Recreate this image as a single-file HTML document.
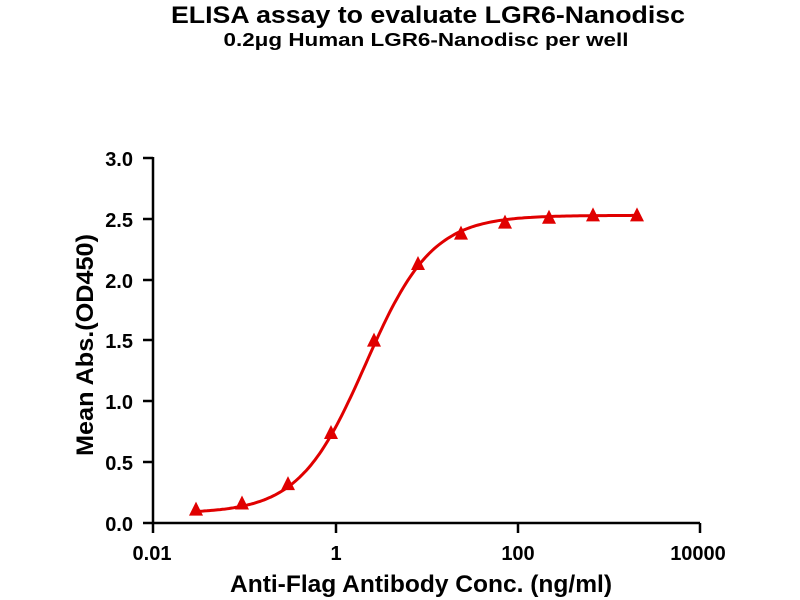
<!DOCTYPE html>
<html><head><meta charset="utf-8"><style>body{margin:0;background:#fff}svg{display:block}text{font-family:"Liberation Sans",Arial,sans-serif;font-weight:bold;fill:#000}</style></head><body>
<svg id="s" width="800" height="600" xmlns="http://www.w3.org/2000/svg">
<text x="428" y="23" text-anchor="middle" font-size="24" textLength="514" lengthAdjust="spacingAndGlyphs">ELISA assay to evaluate LGR6-Nanodisc</text>
<text x="426" y="46" text-anchor="middle" font-size="18" textLength="405" lengthAdjust="spacingAndGlyphs">0.2μg Human LGR6-Nanodisc per well</text>
<g stroke="#000" stroke-width="2.5" fill="none">
<path d="M153,157 V523 H700"/>
<path d="M143,158H153M143,219H153M143,280H153M143,340H153M143,401H153M143,462H153M143,523H153"/>
<path d="M153,523V533M336,523V533M518,523V533M700,523V533"/>
</g>
<g font-size="20" text-anchor="end">
<text x="133" y="166">3.0</text><text x="133" y="227">2.5</text><text x="133" y="288">2.0</text><text x="133" y="348">1.5</text><text x="133" y="409">1.0</text><text x="133" y="470">0.5</text><text x="133" y="531">0.0</text>
</g>
<g font-size="20" text-anchor="middle">
<text x="152" y="560">0.01</text><text x="336" y="560">1</text><text x="518" y="560">100</text><text x="698" y="560">10000</text>
</g>
<text x="421" y="592" text-anchor="middle" font-size="24" textLength="382" lengthAdjust="spacingAndGlyphs">Anti-Flag Antibody Conc. (ng/ml)</text>
<text transform="translate(93,345) rotate(-90)" text-anchor="middle" font-size="24" textLength="222" lengthAdjust="spacingAndGlyphs">Mean Abs.(OD450)</text>
<path id="c" fill="none" stroke="#e00000" stroke-width="3"/>
<g id="m" fill="#e00000"></g>
</svg>
<script>
function Y(v){return 523-v*121.6}
function f(l){return 0.08+2.45/(1+Math.pow(10,1.2*(0.35-l)))}
var d="";for(var i=0;i<=200;i++){var x=196+(637-196)*i/200;var l=(x-150)/91.7-2;d+=(i?"L":"M")+x.toFixed(1)+","+Y(f(l)).toFixed(1)}
document.getElementById("c").setAttribute("d",d);
var xs=[196,242,288,331,374,418,461,505,549,593,637],ys=[0.11,0.16,0.32,0.74,1.50,2.13,2.38,2.47,2.51,2.53,2.53],g="";
for(var i=0;i<xs.length;i++){var y=Y(ys[i]);g+='<polygon points="'+(xs[i]-7)+','+(y+6)+' '+(xs[i]+7)+','+(y+6)+' '+xs[i]+','+(y-8)+'"/>'}
document.getElementById("m").innerHTML=g;
</script>
</body></html>
